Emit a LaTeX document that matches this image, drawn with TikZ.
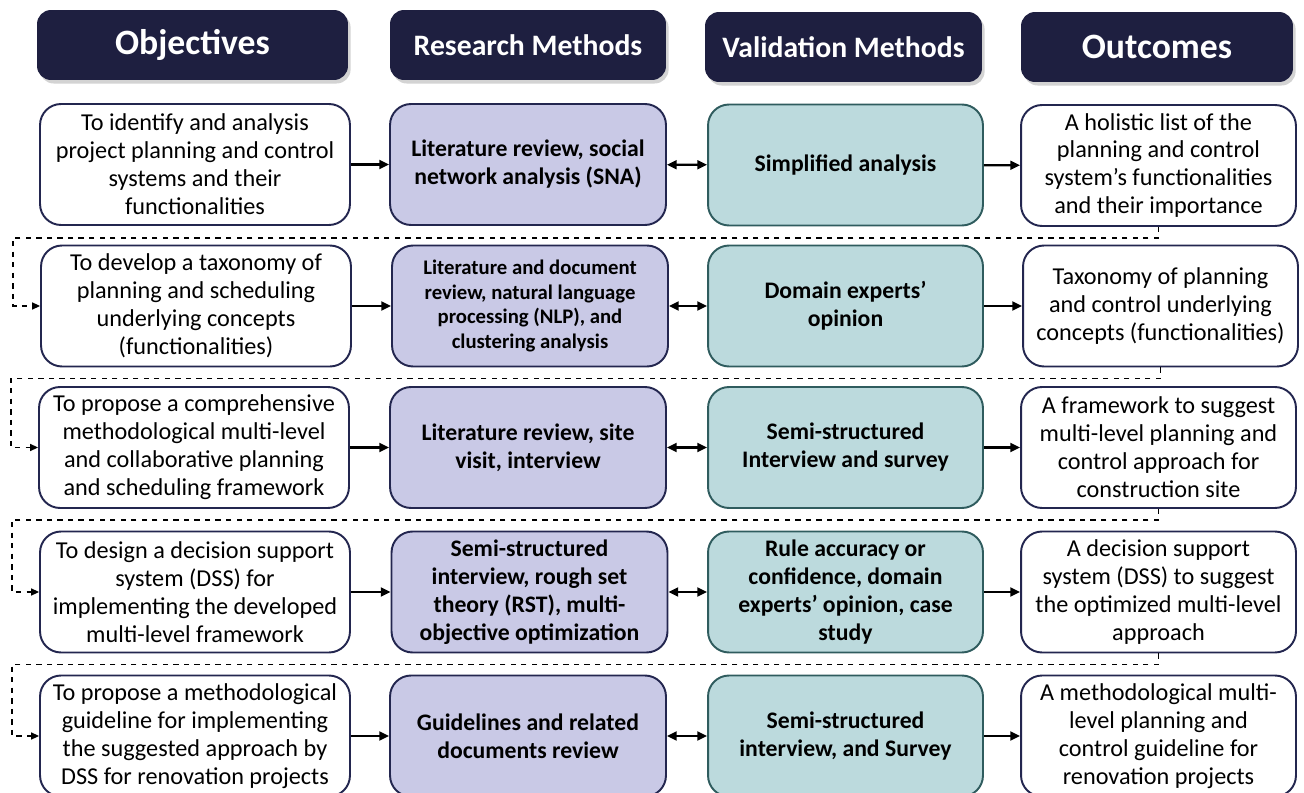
\documentclass[tikz,border=0pt]{standalone}
\usepackage{fontspec}
\setmainfont{Carlito}
\usetikzlibrary{arrows.meta,shadows,calc}
\definecolor{headnavy}{HTML}{1E1F40}
\definecolor{boxnavy}{HTML}{23264F}
\definecolor{lavender}{HTML}{C9C9E6}
\definecolor{paleteal}{HTML}{BCDADD}
\definecolor{darkteal}{HTML}{2F5C5E}

\begin{document}
\begin{tikzpicture}[x=0.02cm,y=-0.02cm,
    head/.style={fill=headnavy,rounded corners=0.28cm,minimum height=1.4cm,text=white,font=\bfseries,
      drop shadow={shadow xshift=1.5pt,shadow yshift=-2pt,opacity=0.35}},
    cell/.style={rounded corners=0.42cm,minimum height=2.42cm,line width=1.1pt,align=center,inner sep=0pt},
    objbox/.style={cell,draw=boxnavy,fill=white,minimum width=6.2cm,font=\fontsize{13.8}{15.9}\selectfont},
    resbox/.style={cell,draw=boxnavy,fill=lavender,minimum width=5.52cm,font=\fontsize{13.5}{15.9}\selectfont\bfseries},
    valbox/.style={cell,draw=darkteal,fill=paleteal,minimum width=5.5cm,font=\fontsize{13.5}{15.9}\selectfont\bfseries},
    outbox/.style={cell,draw=boxnavy,fill=white,minimum width=5.5cm,font=\fontsize{13.8}{15.9}\selectfont},
    link/.style={line width=1.3pt,-{Triangle[length=5.5pt,width=5pt]}},
    twolink/.style={line width=1.3pt,{Triangle[length=5.5pt,width=5pt]}-{Triangle[length=5.5pt,width=5pt]}},
    backlink/.style={dashed,line width=0.7pt,-{Triangle[length=4.5pt,width=4pt]}}]
    \clip (0,0) rectangle (1304,793);

    \node[head,minimum width=6.22cm,font=\fontsize{20.3}{24}\selectfont\bfseries] (hobj) at (192.5,45) {Objectives};
    \node[head,minimum width=5.52cm,font=\fontsize{16.9}{20}\selectfont\bfseries] (hres) at (528,45) {Research Methods};
    \node[head,minimum width=5.54cm,font=\fontsize{16.9}{20}\selectfont\bfseries] (hval) at (843.5,47) {Validation Methods};
    \node[head,minimum width=5.44cm,font=\fontsize{20.3}{24}\selectfont\bfseries] (hout) at (1157,47) {Outcomes};

    \node[objbox] (obj1) at (195,164.5) {To identify and analysis\\project planning and control\\systems and their\\functionalities};
    \node[resbox] (res1) at (528,164.5) {Literature review, social\\network analysis (SNA)};
    \node[valbox] (val1) at (845.5,165) {Simplified analysis};
    \node[outbox] (out1) at (1158.5,165.5) {A holistic list of the\\planning and control\\system’s functionalities\\and their importance};

    \node[objbox] (obj2) at (196,306) {To develop a taxonomy of\\planning and scheduling\\underlying concepts\\(functionalities)};
    \node[resbox,font=\fontsize{11.8}{14.2}\selectfont\bfseries] (res2) at (530,306) {Literature and document\\review, natural language\\processing (NLP), and\\clustering analysis};
    \node[valbox] (val2) at (845.5,306) {Domain experts’\\opinion};
    \node[outbox] (out2) at (1160.5,306) {Taxonomy of planning\\and control underlying\\concepts (functionalities)};

    \node[objbox] (obj3) at (194,447.5) {To propose a comprehensive\\methodological multi-level\\and collaborative planning\\and scheduling framework};
    \node[resbox] (res3) at (528,447.5) {Literature review, site\\visit, interview};
    \node[valbox] (val3) at (845.5,447.5) {Semi-structured\\Interview and survey};
    \node[outbox] (out3) at (1158.5,447.5) {A framework to suggest\\multi-level planning and\\control approach for\\construction site};

    \node[objbox] (obj4) at (195,592) {To design a decision support\\system (DSS) for\\implementing the developed\\multi-level framework};
    \node[resbox] (res4) at (529.5,592) {Semi-structured\\interview, rough set\\theory (RST), multi-\\objective optimization};
    \node[valbox] (val4) at (845.5,592) {Rule accuracy or\\confidence, domain\\experts’ opinion, case\\study};
    \node[outbox] (out4) at (1158.5,592) {A decision support\\system (DSS) to suggest\\the optimized multi-level\\approach};

    \node[objbox] (obj5) at (195,736) {To propose a methodological\\guideline for implementing\\the suggested approach by\\DSS for renovation projects};
    \node[resbox] (res5) at (528,736) {Guidelines and related\\documents review};
    \node[valbox] (val5) at (845.5,736) {Semi-structured\\interview, and Survey};
    \node[outbox] (out5) at (1158.5,736) {A methodological multi-\\level planning and\\control guideline for\\renovation projects};

    \foreach \i in {1,...,5} {
      \draw[link] (obj\i) -- (res\i);
      \draw[twolink] (res\i) -- (val\i);
      \draw[link] (val\i) -- (out\i);
    }
    \foreach \i/\j in {1/2,2/3,3/4,4/5}
      \draw[backlink] (out\i.south) -- ++(0,11) -| ($(obj\j.west)+(-27,0)$) -- (obj\j.west);
\end{tikzpicture}
\end{document}
